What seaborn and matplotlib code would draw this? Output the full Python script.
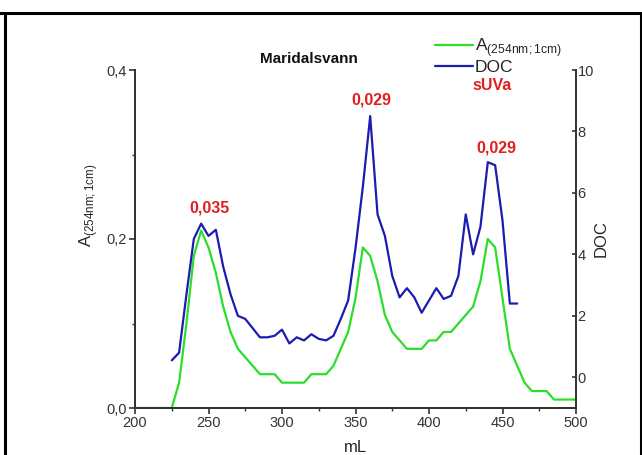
import numpy as np
import pandas as pd
import matplotlib
matplotlib.use("Agg")
import matplotlib.pyplot as plt
import seaborn as sns

# ---- data ----
vol_a = [200, 205, 210, 215, 220, 225, 230, 235, 240, 245, 250, 255, 260, 265, 270,
         275, 280, 285, 290, 295, 300, 305, 310, 315, 320, 325, 330, 335, 340, 345,
         350, 355, 360, 365, 370, 375, 380, 385, 390, 395, 400, 405, 410, 415, 420,
         425, 430, 435, 440, 445, 450, 455, 460, 465, 470, 475, 480, 485, 490, 495, 500]
a254 = [0, 0, 0, 0, 0, 0, 0.03, 0.10, 0.18, 0.21, 0.19, 0.16, 0.12, 0.09, 0.07,
        0.06, 0.05, 0.04, 0.04, 0.04, 0.03, 0.03, 0.03, 0.03, 0.04, 0.04, 0.04, 0.05, 0.07, 0.09,
        0.13, 0.19, 0.18, 0.15, 0.11, 0.09, 0.08, 0.07, 0.07, 0.07, 0.08, 0.08, 0.09, 0.09, 0.10,
        0.11, 0.12, 0.15, 0.20, 0.19, 0.13, 0.07, 0.05, 0.03, 0.02, 0.02, 0.02, 0.01, 0.01, 0.01, 0.01]

vol_doc = [225, 230, 235, 240, 245, 250, 255, 260, 265, 270, 275, 280, 285, 290, 295,
           300, 305, 310, 315, 320, 325, 330, 335, 340, 345, 350, 355, 360, 365, 370,
           375, 380, 385, 390, 395, 400, 405, 410, 415, 420, 425, 430, 435, 440, 445,
           450, 455, 460]
doc = [0.55, 0.8, 2.7, 4.5, 5.0, 4.6, 4.8, 3.6, 2.7, 2.0, 1.9, 1.6, 1.3, 1.3, 1.35,
       1.55, 1.1, 1.3, 1.2, 1.4, 1.25, 1.2, 1.35, 1.9, 2.5, 4.2, 6.2, 8.5, 5.3, 4.6,
       3.3, 2.6, 2.9, 2.6, 2.1, 2.5, 2.9, 2.55, 2.65, 3.3, 5.3, 4.0, 4.9, 7.0, 6.9,
       5.1, 2.4, 2.4]

suva_labels = ["0,035", "0,029", "0,029"]
x_ticks = [200, 250, 300, 350, 400, 450, 500]
y_ticks = [0.0, 0.2, 0.4]
y_tick_labels = ["0,0", "0,2", "0,4"]
y2_ticks = [0, 2, 4, 6, 8, 10]

df_a = pd.DataFrame({"mL": vol_a, "A": a254})
df_d = pd.DataFrame({"mL": vol_doc, "DOC": doc})

# ---- style ----
sns.set_theme(style="ticks")
plt.rcParams["font.family"] = ["Liberation Sans", "DejaVu Sans"]
plt.rcParams["mathtext.fontset"] = "custom"
plt.rcParams["mathtext.rm"] = "Liberation Sans"

GREEN = "#2ade2a"
BLUE = "#1c1cb0"
RED = "#e02020"
SPINE = "#333333"

fig = plt.figure(figsize=(6.42, 4.55), dpi=100)
ax = fig.add_axes([135 / 642, 1 - 408 / 455, 441 / 642, 338 / 455])
ax2 = ax.twinx()

sns.lineplot(data=df_a, x="mL", y="A", ax=ax, color=GREEN, linewidth=1.6,
             label="A$_{\\mathregular{(254nm;1cm)}}$", legend=False)
sns.lineplot(data=df_d, x="mL", y="DOC", ax=ax2, color=BLUE, linewidth=1.6,
             label="DOC", legend=False)

ax.set_xlim(200, 500)
ax.set_ylim(0, 0.4)
ax2.set_ylim(-1, 10)

ax.set_xticks(x_ticks)
ax.set_xticks([225, 275, 325, 375, 425, 475], minor=True)
ax.set_yticks(y_ticks)
ax.set_yticklabels(y_tick_labels)
ax.set_yticks([0.1, 0.3], minor=True)
ax2.set_yticks(y2_ticks)

for a in (ax, ax2):
    for s in a.spines.values():
        s.set_color(SPINE)
        s.set_linewidth(1.4)
    a.spines["top"].set_visible(False)
ax.spines["right"].set_visible(False)

ax.tick_params(axis="both", which="major", direction="out", length=4, width=1.2,
               color=SPINE, labelsize=10.5, labelcolor="#333333", pad=2)
ax.tick_params(axis="both", which="minor", direction="out", length=2.5, width=1.0, color=SPINE)
ax2.tick_params(axis="y", which="major", direction="in", length=3, width=1.2,
                color=SPINE, labelsize=10.5, labelcolor="#333333", pad=1)

ax.set_xlabel("mL", fontsize=12, labelpad=7)
ax.set_ylabel("A$_{\\mathregular{(254nm;1cm)}}$", fontsize=12)
ax.yaxis.set_label_coords(-0.08, 0.6)
ax2.set_ylabel("DOC", fontsize=12)
ax2.yaxis.set_label_coords(1.041, 0.5)

ax.text(318, 0.413, "Maridalsvann", ha="center", va="center", fontsize=11,
        fontweight="bold", color="#111111", clip_on=False)

label_pos = [(251, 0.237), (360.5, 0.364), (446, 0.308)]
for (lx, ly), txt in zip(label_pos, suva_labels):
    ax.text(lx, ly, txt, ha="center", va="center", fontsize=11.5, fontweight="bold",
            color=RED, clip_on=False)
ax.text(443, 0.382, "sUVa", ha="center", va="center", fontsize=11.5,
        fontweight="bold", color=RED, clip_on=False)

h1, l1 = ax.get_legend_handles_labels()
h2, l2 = ax2.get_legend_handles_labels()
leg = ax2.legend(h1 + h2, l1 + l2, loc="upper left", bbox_to_anchor=(0.68, 1.10),
                 frameon=False, fontsize=12.5, handlelength=2.2, handletextpad=0.1,
                 labelspacing=0.02, borderpad=0.0, borderaxespad=0.0)

# page frame lines
fig.add_artist(plt.Line2D([0, 1], [1 - 13 / 455, 1 - 13 / 455], color="black",
                          linewidth=2.2, transform=fig.transFigure))
fig.add_artist(plt.Line2D([5 / 642, 5 / 642], [0, 1 - 13 / 455], color="black",
                          linewidth=2.2, transform=fig.transFigure))
fig.add_artist(plt.Line2D([641 / 642, 641 / 642], [0, 1 - 13 / 455], color="black",
                          linewidth=2.2, transform=fig.transFigure))

fig.savefig("out.png", dpi=100)
